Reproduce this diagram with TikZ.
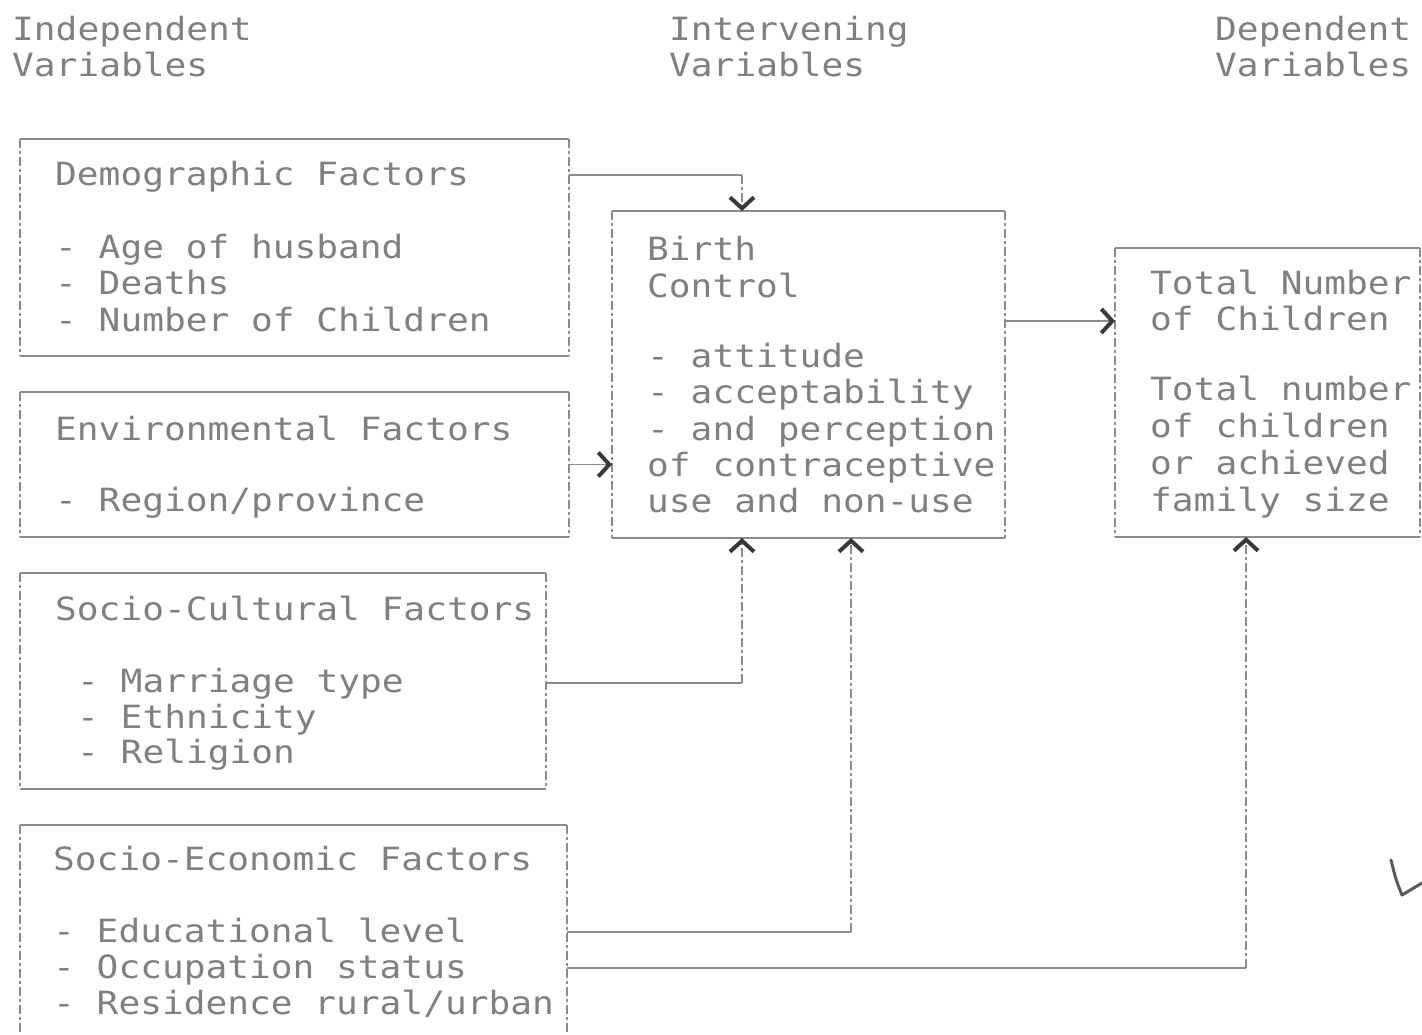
\documentclass[tikz,border=0pt]{standalone}
\usepackage{fontspec}
\newfontfamily\tw[FakeStretch=1.13]{DejaVu Sans Mono}
\usetikzlibrary{arrows.meta}
\begin{document}
\begin{tikzpicture}[x=1pt,y=-1pt,
  box/.style={draw=none,inner sep=0pt,outer sep=0pt},
  hl/.style={draw=black!45,line width=1.8pt},
  vl/.style={draw=black!45,line width=1.8pt,dash pattern=on 9pt off 3pt on 3pt off 3pt},
  arr/.style={-{Straight Barb[length=11pt,width=24pt,line width=0pt 2.2,color=black!78]}},
  txt/.style={anchor=base west,inner sep=0pt,text=black!50,font=\tw\fontsize{32pt}{36pt}\selectfont},
  tick/.style={draw=black!65,line width=3pt,line cap=round,line join=round}]
\useasboundingbox (0,0) rectangle (1422,1034);
\fill[white] (0,0) rectangle (1422,1034);
\newcommand\edges[1]{%
  \draw[hl] (#1.north west) -- (#1.north east);
  \draw[hl] (#1.south west) -- (#1.south east);
  \draw[vl] (#1.north west) -- (#1.south west);
  \draw[vl] (#1.north east) -- (#1.south east);}
% headers
\node[txt] (h1a) at (12,40) {Independent};
\node[txt] (h1b) at (12,76) {Variables};
\node[txt] (h2a) at (669,40) {Intervening};
\node[txt] (h2b) at (669,76) {Variables};
\node[txt] (h3a) at (1215,40) {Dependent};
\node[txt] (h3b) at (1215,76) {Variables};
% boxes
\node[box,minimum width=549pt,minimum height=217pt] (demo) at (294.5,247.5) {};
\node[box,minimum width=549pt,minimum height=145pt] (env) at (294.5,464.5) {};
\node[box,minimum width=526pt,minimum height=216pt] (socc) at (283,681) {};
\node[box,minimum width=547pt,minimum height=235pt] (soce) at (293.5,942.5) {};
\node[box,minimum width=393pt,minimum height=327pt] (bc) at (808.5,374.5) {};
\node[box,minimum width=305pt,minimum height=289pt] (tot) at (1267.5,392.5) {};
\edges{demo}\edges{env}\edges{socc}\edges{soce}\edges{bc}\edges{tot}
% texts
\node[txt] (d0) at (55,185) {Demographic Factors};
\node[txt] (d1) at (55,258) {- Age of husband};
\node[txt] (d2) at (55,294) {- Deaths};
\node[txt] (d3) at (55,331) {- Number of Children};
\node[txt] (e0) at (55,440) {Environmental Factors};
\node[txt] (e1) at (55,511) {-  Region/province};
\node[txt] (c0) at (55,620) {Socio-Cultural Factors};
\node[txt] (c1) at (77,692) {- Marriage type};
\node[txt] (c2) at (77,728) {- Ethnicity};
\node[txt] (c3) at (77,763) {- Religion};
\node[txt] (s0) at (53,870) {Socio-Economic Factors};
\node[txt] (s1) at (53,942) {- Educational level};
\node[txt] (s2) at (53,978) {- Occupation status};
\node[txt] (s3) at (53,1014) {- Residence rural/urban};
\node[txt] (b0) at (647,260) {Birth};
\node[txt] (b1) at (647,297) {Control};
\node[txt] (b2) at (647,367) {- attitude};
\node[txt] (b3) at (647,403) {- acceptability};
\node[txt] (b4) at (647,440) {- and perception};
\node[txt] (b5) at (647,476) {of contraceptive};
\node[txt] (b6) at (647,512) {use and non-use};
\node[txt] (t0) at (1150,294) {Total Number};
\node[txt] (t1) at (1150,330) {of Children};
\node[txt] (t2) at (1150,400) {Total number};
\node[txt] (t3) at (1150,437) {of children};
\node[txt] (t4) at (1150,474) {or achieved};
\node[txt] (t5) at (1150,511) {family size};
% connectors
\coordinate (j1) at (742,175);
\draw[hl] (demo.east |- j1) -- (j1);
\draw[vl,arr] (j1) -- (j1 |- bc.north);
\draw[hl,arr] (env.east) -- (env.east -| bc.west);
\coordinate (j2) at (742,683);
\draw[hl] (socc.east |- j2) -- (j2);
\draw[vl,arr] (j2) -- (j2 |- bc.south);
\coordinate (j3) at (851,932);
\draw[hl] (soce.east |- j3) -- (j3);
\draw[vl,arr] (j3) -- (j3 |- bc.south);
\coordinate (j4) at (1246,968);
\draw[hl] (soce.east |- j4) -- (j4);
\draw[vl,arr] (j4) -- (j4 |- tot.south);
\coordinate (j5) at (1060,321);
\draw[hl,arr] (bc.east |- j5) -- (tot.west |- j5);
% handwritten tick
\draw[tick] (1391,860) .. controls (1396,880) .. (1402,895) -- (1422,883);
\end{tikzpicture}
\end{document}
